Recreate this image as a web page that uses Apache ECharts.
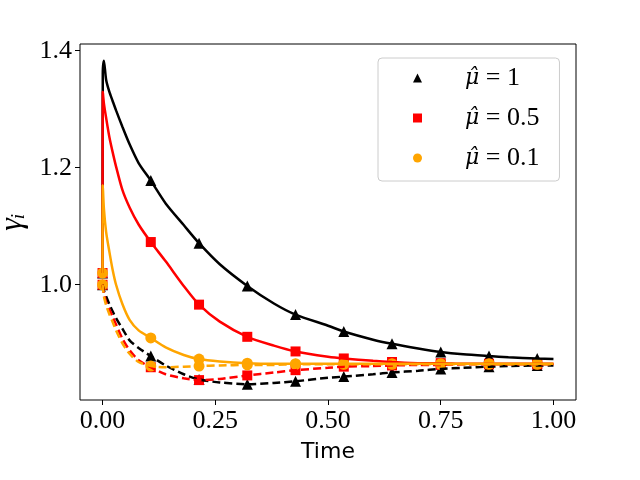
<!DOCTYPE html>
<html><head><meta charset="utf-8">
<script src="https://cdn.jsdelivr.net/npm/echarts@6/dist/echarts.min.js"></script>
<style>html,body{margin:0;padding:0;background:#fff}#c{width:640px;height:480px}</style>
</head><body><div id="c"></div>
<script>
// sample times for the curves (first two points: initial value, then the jump)
const time = [0, 0.0005, 0.003, 0.008, 0.015, 0.022, 0.03, 0.044, 0.06, 0.08, 0.107, 0.14, 0.18, 0.214, 0.26, 0.321, 0.38, 0.428, 0.5, 0.535, 0.6, 0.642, 0.7, 0.75, 0.8, 0.857, 0.9, 0.964, 1.0];
const blackSolid  = [1.02, 1.36, 1.383, 1.35, 1.33, 1.315, 1.298, 1.27, 1.24, 1.208, 1.178, 1.139, 1.102, 1.071, 1.035, 0.998, 0.968, 0.949, 0.93, 0.92, 0.906, 0.899, 0.891, 0.885, 0.881, 0.878, 0.876, 0.874, 0.873];
const blackDashed = [1.0, 0.999, 0.99, 0.98, 0.967, 0.955, 0.943, 0.925, 0.905, 0.892, 0.878, 0.862, 0.847, 0.838, 0.833, 0.830, 0.832, 0.835, 0.841, 0.843, 0.847, 0.85, 0.853, 0.856, 0.858, 0.86, 0.861, 0.862, 0.862];
const redSolid    = [1.02, 1.33, 1.31, 1.285, 1.253, 1.228, 1.202, 1.162, 1.132, 1.103, 1.073, 1.04, 0.998, 0.966, 0.937, 0.911, 0.896, 0.886, 0.877, 0.874, 0.87, 0.868, 0.866, 0.866, 0.865, 0.865, 0.865, 0.865, 0.865];
const redDashed   = [1.0, 0.999, 0.985, 0.97, 0.958, 0.946, 0.932, 0.908, 0.888, 0.871, 0.859, 0.847, 0.840, 0.837, 0.839, 0.845, 0.85, 0.854, 0.858, 0.86, 0.861, 0.862, 0.863, 0.863, 0.864, 0.864, 0.864, 0.864, 0.864];
const orangeSolid = [1.02, 1.17, 1.13, 1.09, 1.057, 1.027, 1.0, 0.967, 0.94, 0.922, 0.909, 0.893, 0.880, 0.873, 0.869, 0.866, 0.865, 0.865, 0.865, 0.865, 0.865, 0.865, 0.865, 0.865, 0.865, 0.865, 0.865, 0.865, 0.865];
const orangeDashed= [1.0, 0.999, 0.98, 0.965, 0.95, 0.937, 0.922, 0.9, 0.882, 0.868, 0.861, 0.859, 0.86, 0.861, 0.862, 0.863, 0.863, 0.864, 0.864, 0.864, 0.864, 0.864, 0.864, 0.864, 0.864, 0.864, 0.864, 0.864, 0.864];
const markerTimes = [0, 0.107, 0.214, 0.321, 0.428, 0.535, 0.642, 0.75, 0.857, 0.964];
const muValues = ['1', '0.5', '0.1'];
const xTicks = [0, 0.25, 0.5, 0.75, 1.0];
const yTicks = [1.0, 1.2, 1.4];

const groups = [
  {mu: muValues[0], color: '#000000', symbol: 'triangle', solid: blackSolid, dashed: blackDashed},
  {mu: muValues[1], color: '#ff0000', symbol: 'rect', solid: redSolid, dashed: redDashed},
  {mu: muValues[2], color: '#ffa500', symbol: 'circle', solid: orangeSolid, dashed: orangeDashed}
];
const legendName = mu => 'μ̂ = ' + mu;
const pairs = vals => time.map((t, i) => [t, vals[i]]);
const marks = vals => markerTimes.map(t => [t, vals[time.indexOf(t)]]);

const series = [];
groups.forEach(g => {
  series.push({type: 'line', data: pairs(g.solid), showSymbol: false, symbol: 'none', silent: true,
    smooth: 0.25, lineStyle: {color: g.color, width: 2.5}, animation: false});
  series.push({type: 'line', data: pairs(g.dashed), showSymbol: false, symbol: 'none', silent: true,
    smooth: 0.25, lineStyle: {color: g.color, width: 2.5, type: [8, 4]}, animation: false});
  series.push({type: 'scatter', name: legendName(g.mu), symbol: g.symbol, symbolSize: g.symbol === 'rect' ? 10 : 11,
    data: marks(g.solid).concat(marks(g.dashed)), itemStyle: {color: g.color, opacity: 1}, animation: false});
});

const serif = 'Liberation Serif';
const chart = echarts.init(document.getElementById('c'));
chart.setOption({
  backgroundColor: '#ffffff',
  animation: false,
  grid: {left: 80, right: 64, top: 44, bottom: 80, containLabel: false, outerBoundsMode: 'none',
    show: true, borderColor: '#000', borderWidth: 1, backgroundColor: 'transparent'},
  xAxis: {
    type: 'value', min: -0.05, max: 1.05,
    name: 'Time', nameLocation: 'middle', nameGap: 41,
    nameTextStyle: {fontFamily: 'DejaVu Sans', fontSize: 22, color: '#000'},
    axisLine: {show: false, onZero: false}, splitLine: {show: false},
    axisTick: {show: true, inside: false, length: 5, lineStyle: {color: '#000', width: 1}, customValues: xTicks},
    axisLabel: {customValues: xTicks, margin: 8, fontFamily: serif, fontSize: 26, color: '#000', formatter: v => v.toFixed(2)}
  },
  yAxis: {
    type: 'value', min: 0.803, max: 1.4115,
    name: 'γᵢ', nameLocation: 'middle', nameGap: 50, nameRotate: 90,
    nameTextStyle: {fontFamily: serif, fontStyle: 'italic', fontSize: 32, color: '#000'},
    axisLine: {show: false, onZero: false}, splitLine: {show: false},
    axisTick: {show: true, inside: false, length: 5, lineStyle: {color: '#000', width: 1}, customValues: yTicks},
    axisLabel: {customValues: yTicks, margin: 8, fontFamily: serif, fontSize: 26, color: '#000', formatter: v => v.toFixed(1)}
  },
  legend: {
    data: groups.map(g => legendName(g.mu)),
    orient: 'vertical', left: 378, top: 58,
    padding: [5, 20, 8, 35], itemGap: 10, itemWidth: 9, itemHeight: 9,
    backgroundColor: 'rgba(255,255,255,0.8)', borderColor: '#cccccc', borderWidth: 1, borderRadius: 4,
    selectedMode: false,
    formatter: name => '{s|}{m|μ̂}{r|' + name.slice(2) + '}',
    textStyle: {fontFamily: serif, fontSize: 26, color: '#000', lineHeight: 30,
      rich: {
        s: {width: 38},
        m: {fontFamily: 'DejaVu Serif', fontStyle: 'italic', fontSize: 22, lineHeight: 30},
        r: {fontFamily: serif, fontSize: 26, lineHeight: 30}
      }}
  },
  series: series
});
</script>
</body></html>
